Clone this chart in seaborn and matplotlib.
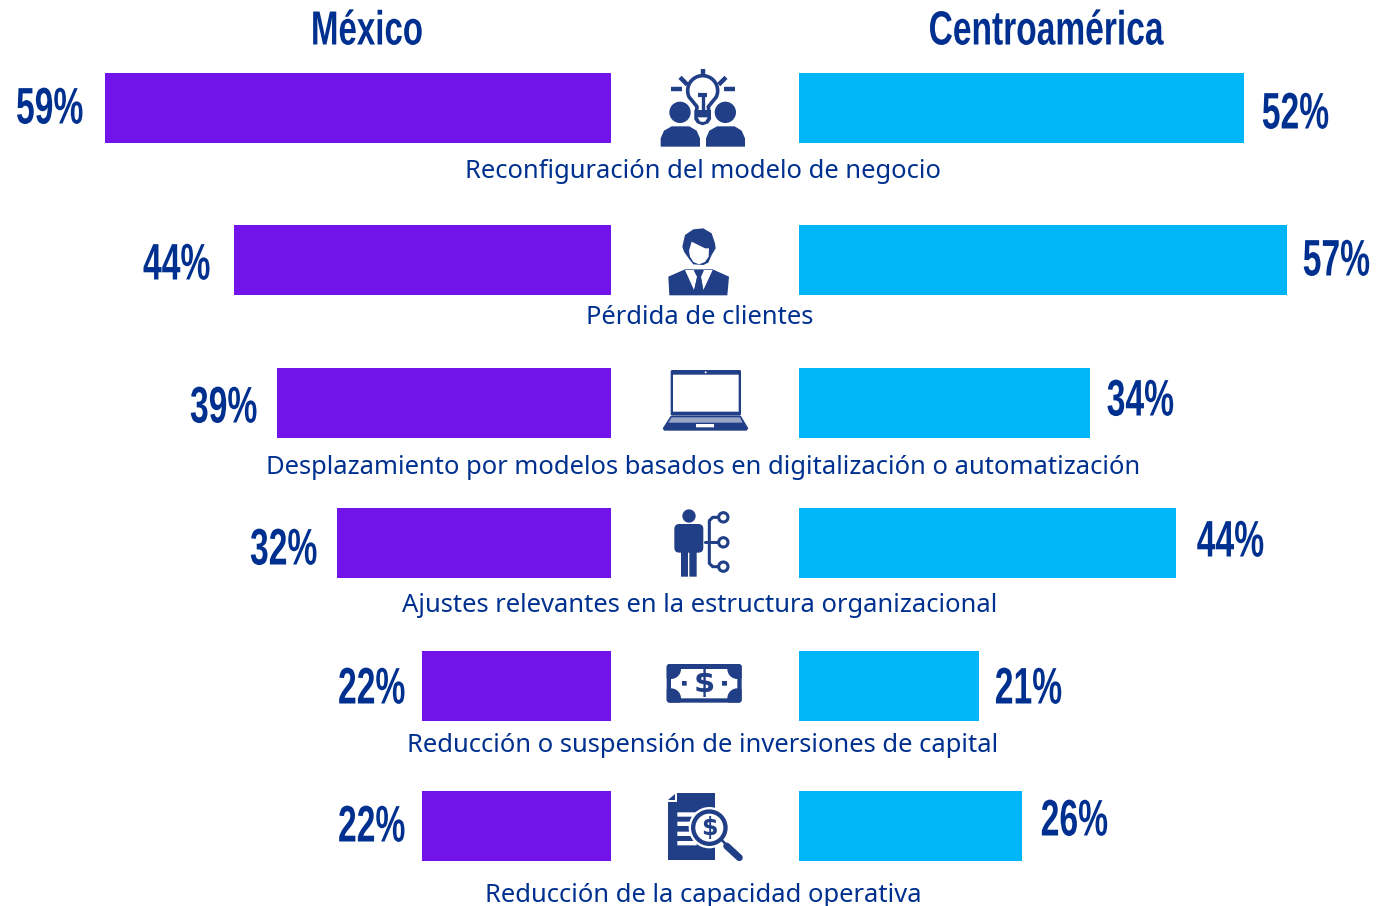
import numpy as np
import pandas as pd
import matplotlib
matplotlib.use('Agg')
import matplotlib.pyplot as plt
import seaborn as sns
from matplotlib.patches import Polygon, Circle, FancyBboxPatch
from matplotlib.patheffects import AbstractPathEffect
from matplotlib.text import Text
from matplotlib.transforms import Affine2D, Bbox

# data
categorias = ['Reconfiguración del modelo de negocio', 'Pérdida de clientes',
              'Desplazamiento por modelos basados en digitalización o automatización',
              'Ajustes relevantes en la estructura organizacional',
              'Reducción o suspensión de inversiones de capital',
              'Reducción de la capacidad operativa']
mexico = [59, 44, 39, 32, 22, 22]
centroamerica = [52, 57, 34, 44, 21, 26]

# layout, in pixels of the 1381x906 picture
W, H = 1381, 906
fila_y = [108, 260, 403, 543, 686, 826]
texto_x = [703, 700, 703, 700, 703, 703]
texto_y = [172, 317, 467, 605, 746, 895]
izq_x = [16, 143, 190, 250, 338, 338]
izq_y = [110, 266, 409, 551, 690, 828]
der_x = [1329, 1370, 1174, 1264, 1062, 1108]
der_y = [115, 262, 402, 543, 690, 822]
PX_POR_PUNTO = 8.57
BORDE_IZQ, BORDE_DER = 611, 799

MORADO = '#7213EA'
CIAN = '#00B6F9'
AZUL = '#00308F'
ICONO = '#213F87'

sns.set_theme(style='white')
ANGOSTA = ['Liberation Sans', 'DejaVu Sans']
plt.rcParams['font.family'] = ['Noto Sans', 'DejaVu Sans']


# no condensed bold font here, so squeeze the glyphs around the anchor of the text
class Angosto(AbstractPathEffect):
    def __init__(self, x0, sx):
        super().__init__()
        self.x0, self.sx = x0, sx

    def draw_path(self, renderer, gc, tpath, affine, rgbFace=None):
        apretar = Affine2D().translate(-self.x0, 0).scale(self.sx, 1).translate(self.x0, 0)
        renderer.draw_path(gc, tpath, affine + apretar, rgbFace)


class TextoAngosto(Text):
    def __init__(self, x, y, s, sx, ha='center', **kw):
        super().__init__(x, y, s, ha=ha, va='center', color=AZUL, family=ANGOSTA, weight='bold', **kw)
        self.sx = sx
        self.x_ancla = x
        self.set_path_effects([Angosto(x, sx)])

    def get_window_extent(self, renderer=None, dpi=None):
        bb = super().get_window_extent(renderer, dpi)
        x0 = self.x_ancla + (bb.x0 - self.x_ancla) * self.sx
        x1 = self.x_ancla + (bb.x1 - self.x_ancla) * self.sx
        return Bbox.from_extents(x0, bb.y0, x1, bb.y1)


fig = plt.figure(figsize=(W / 100, H / 100), dpi=100, facecolor='white')
ax_izq = fig.add_axes([0, 0, BORDE_IZQ / W, 1])
ax_der = fig.add_axes([BORDE_DER / W, 0, (W - BORDE_DER) / W, 1])

sns.barplot(x=mexico, y=fila_y, orient='y', native_scale=True, width=0.5,
            color=MORADO, saturation=1, linewidth=0, ax=ax_izq)
sns.barplot(x=centroamerica, y=fila_y, orient='y', native_scale=True, width=0.5,
            color=CIAN, saturation=1, linewidth=0, ax=ax_der)
ax_izq.set_xlim(BORDE_IZQ / PX_POR_PUNTO, 0)
ax_der.set_xlim(0, (W - BORDE_DER) / 8.56)
for a in (ax_izq, ax_der):
    a.set_ylim(H, 0)
    a.axis('off')

# overlay in pixel coords for texts and icons
ov = fig.add_axes([0, 0, 1, 1], zorder=5)
ov.set_xlim(0, W)
ov.set_ylim(H, 0)
ov.axis('off')
ov.patch.set_alpha(0)

ov.add_artist(TextoAngosto(367, 32, 'México', 0.69, fontsize=34.5))
ov.add_artist(TextoAngosto(1046, 32, 'Centroamérica', 0.70, fontsize=34.5))
for i, cat in enumerate(categorias):
    ov.text(texto_x[i], texto_y[i], cat, color=AZUL, fontsize=18.4, ha='center', va='center')
    ov.add_artist(TextoAngosto(izq_x[i], izq_y[i], f'{mexico[i]}%', 0.655, ha='left', fontsize=37))
    ov.add_artist(TextoAngosto(der_x[i], der_y[i], f'{centroamerica[i]}%', 0.655, ha='right', fontsize=37))


# icon helpers: coordinates come from the 3x crops, ox/oy is the crop origin
def zp(pts, ox, oy):
    return [(ox + x / 3, oy + y / 3) for x, y in pts]

def poli(pts, ox, oy, color=ICONO, **kw):
    p = Polygon(zp(pts, ox, oy), closed=True, fc=color, ec='none', **kw)
    ov.add_patch(p)
    return p

def circ(x, y, r, ox, oy, color=ICONO, ec='none', lw=0):
    p = Circle((ox + x / 3, oy + y / 3), r / 3, fc=color, ec=ec, lw=lw)
    ov.add_patch(p)
    return p

def caja(x0, y0, x1, y1, ox, oy, color=ICONO, rad=0):
    p = FancyBboxPatch((ox + x0 / 3 + rad, oy + y0 / 3 + rad), (x1 - x0) / 3 - 2 * rad, (y1 - y0) / 3 - 2 * rad,
                       boxstyle=f'round,pad={rad},rounding_size={rad}', fc=color, ec='none')
    ov.add_patch(p)
    return p

def linea(pts, ox, oy, lw=2.2, color=ICONO, cap='round'):
    q = zp(pts, ox, oy)
    ov.plot([a for a, b in q], [b for a, b in q], color=color, lw=lw, solid_capstyle=cap, solid_joinstyle='round')


# 1 bulb and two people
ox, oy = 640, 60
circ(120, 157, 32, ox, oy)
circ(256, 157, 32, ox, oy)
poli([(62, 260), (62, 235), (72, 212), (95, 199), (148, 199), (170, 212), (180, 235), (180, 260)], ox, oy)
poli([(198, 260), (198, 235), (208, 212), (231, 199), (284, 199), (305, 212), (315, 235), (315, 260)], ox, oy)
t = np.radians(np.linspace(-205, 25, 40))
bulbo = [(188 + 45 * np.cos(a), 92 + 45 * np.sin(a)) for a in t]
bulbo += [(205, 140), (208, 175), (168, 175), (171, 140)]
ov.add_patch(Polygon(zp(bulbo, ox, oy), closed=True, fc='white', ec=ICONO, lw=2.6, joinstyle='round'))
caja(163, 150, 213, 195, ox, oy, color='white')
poli([(163, 150), (213, 150), (213, 178), (205, 190), (188, 196), (171, 190), (163, 178)], ox, oy)
poli([(173, 172), (203, 172), (196, 184), (188, 186), (180, 184)], ox, oy, color='white')
linea([(188, 150), (188, 108)], ox, oy, lw=2.4, cap='butt')
linea([(175, 105), (202, 105)], ox, oy, lw=3, cap='butt')
linea([(188, 28), (188, 50)], ox, oy, lw=3.2, cap='butt')
linea([(120, 52), (142, 74)], ox, oy, lw=3.2, cap='butt')
linea([(258, 52), (236, 74)], ox, oy, lw=3.2, cap='butt')
linea([(93, 87), (126, 87)], ox, oy, lw=3.2, cap='butt')
linea([(252, 87), (285, 87)], ox, oy, lw=3.2, cap='butt')

# 2 person with tie
ox, oy = 640, 220
poli([(127, 80), (135, 45), (160, 28), (190, 25), (215, 40), (225, 70), (227, 85), (215, 105), (205, 128),
      (190, 135), (160, 133), (148, 118), (132, 95)], ox, oy)
poli([(147, 92), (155, 65), (195, 85), (207, 85), (206, 110), (195, 126), (177, 133), (160, 126), (150, 110)],
     ox, oy, color='white')
poli([(85, 170), (135, 148), (218, 148), (267, 170), (262, 226), (88, 226)], ox, oy)
poli([(135, 150), (163, 150), (172, 170), (162, 210)], ox, oy, color='white')
poli([(190, 150), (218, 150), (190, 210), (182, 170)], ox, oy, color='white')
poli([(161, 151), (192, 151), (183, 170), (190, 210), (177, 224), (163, 210), (171, 170)], ox, oy)

# 3 laptop
ox, oy = 640, 360
caja(92, 30, 303, 167, ox, oy, rad=1.5)
caja(99, 44, 296, 155, ox, oy, color='white')
circ(197, 37, 3, ox, oy, color='white')
poli([(92, 168), (303, 168), (325, 205), (320, 212), (72, 212), (68, 205)], ox, oy)
poli([(95, 172), (300, 172), (308, 188), (85, 188)], ox, oy, color='#9AA6C6')
caja(168, 192, 222, 202, ox, oy, color='white')

# 4 person with branches
ox, oy = 650, 500
circ(117, 48, 20, ox, oy)
caja(73, 72, 160, 158, ox, oy, rad=5)
caja(93, 150, 114, 230, ox, oy)
caja(118, 150, 140, 230, ox, oy)
linea([(205, 52), (188, 52), (178, 62), (178, 190), (188, 200), (205, 200)], ox, oy)
linea([(165, 127), (205, 127)], ox, oy)
for yy in (52, 127, 200):
    circ(220, yy, 14, ox, oy, color='white', ec=ICONO, lw=2.2)

# 5 banknote
ox, oy = 650, 650
fondo = caja(50, 42, 275, 158, ox, oy, rad=3)
caja(63, 57, 262, 145, ox, oy, color='white')
for xx in (63, 262):
    for yy in (57, 145):
        c = circ(xx, yy, 30, ox, oy)
        c.set_clip_path(fondo)
caja(96, 93, 110, 107, ox, oy)
caja(216, 93, 231, 107, ox, oy)
ov.text(ox + 163 / 3, oy + 101 / 3, '$', color=ICONO, fontsize=22, weight='bold', ha='center', va='center',
        family=['DejaVu Sans'])

# 6 document and magnifier
ox, oy = 650, 785
poli([(80, 25), (195, 25), (195, 225), (55, 225), (55, 50), (80, 50)], ox, oy)
poli([(55, 45), (76, 45), (76, 26)], ox, oy)
for yy in (82, 110, 140, 168):
    caja(82, yy, 140, yy + 13, ox, oy, color='white')
circ(178, 128, 62, ox, oy, color='white')
circ(178, 128, 55, ox, oy)
circ(178, 128, 42, ox, oy, color='white')
ov.text(ox + 178 / 3, oy + 129 / 3, '$', color=ICONO, fontsize=17, weight='bold', ha='center', va='center',
        family=['DejaVu Sans'])
linea([(215, 165), (232, 182)], ox, oy, lw=1.8, cap='butt')
linea([(230, 183), (268, 218)], ox, oy, lw=5, cap='round')

fig.savefig('out.png', dpi=100, facecolor='white')
